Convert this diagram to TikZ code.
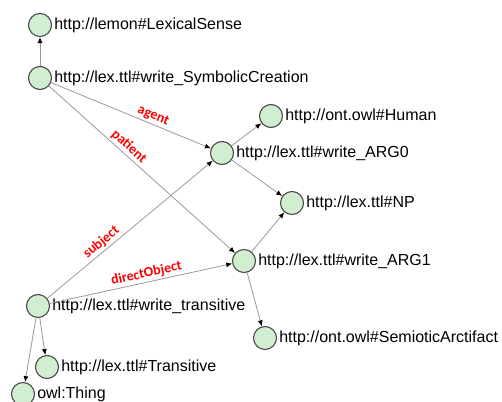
\documentclass[tikz,border=0pt]{standalone}
\usepackage{fontspec}
\setmainfont{Liberation Sans}
\newfontfamily\lblfont{Carlito}
\usetikzlibrary{arrows.meta}
\definecolor{vgreen}{HTML}{D2EED0}
\definecolor{vline}{HTML}{4A4A4A}
\definecolor{egray}{HTML}{9A9A9A}

\begin{document}
\begin{tikzpicture}[x=1pt,y=-1pt,
	vtx/.style={circle,draw=vline,line width=1.1pt,fill=vgreen,minimum size=23pt,inner sep=0pt},
	uri/.style={font=\fontsize{16}{18}\selectfont,inner sep=0pt,label distance=2pt},
	rel/.style={-{Latex[length=6pt,width=5pt,black]},draw=egray,line width=0.8pt},
	rlab/.style={sloped,above,text=red,font=\lblfont\bfseries\fontsize{14}{16}\selectfont,inner sep=2pt}]
	\useasboundingbox (0,0) rectangle (502,401);
	\node[vtx,label={[uri]right:http://lemon\#LexicalSense}] (sense) at (40,25) {};
	\node[vtx,label={[uri]right:http://lex.ttl\#write\_SymbolicCreation}] (symb) at (40,78) {};
	\node[vtx,label={[uri]right:http://ont.owl\#Human}] (human) at (271,116) {};
	\node[vtx,label={[uri]right:http://lex.ttl\#write\_ARG0}] (arg0) at (222,153) {};
	\node[vtx,label={[uri]right:http://lex.ttl\#NP}] (np) at (292,203) {};
	\node[vtx,label={[uri]right:http://lex.ttl\#write\_ARG1}] (arg1) at (244,261) {};
	\node[vtx,label={[uri]right:http://lex.ttl\#write\_transitive}] (trans) at (38,306) {};
	\node[vtx,label={[uri]right:http://ont.owl\#SemioticArctifact}] (semio) at (265,338) {};
	\node[vtx,label={[uri]right:http://lex.ttl\#Transitive}] (transcls) at (47,367) {};
	\node[vtx,label={[uri]right:owl:Thing}] (thing) at (23,394) {};

	\draw[rel] (symb) -- (sense);
	\draw[rel] (symb) -- node[rlab,pos=0.62] {agent} (arg0);
	\draw[rel] (symb) -- node[rlab,pos=0.4] {patient} (arg1);
	\draw[rel] (arg0) -- (human);
	\draw[rel] (arg0) -- (np);
	\draw[rel] (arg1) -- (np);
	\draw[rel] (trans) -- node[rlab,pos=0.36] {subject} (arg0);
	\draw[rel] (trans) -- node[rlab,pos=0.54] {directObject} (arg1);
	\draw[rel] (arg1) -- (semio);
	\draw[rel] (trans) -- (transcls);
	\draw[rel] (trans) -- (thing);
\end{tikzpicture}
\end{document}
